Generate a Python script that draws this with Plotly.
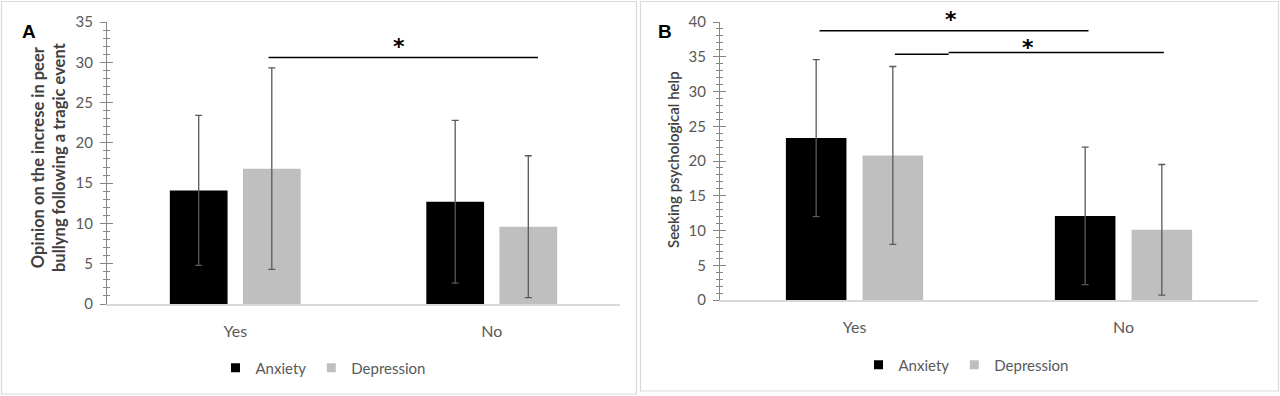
import plotly.graph_objects as go

# ---------------- data ----------------
categories = ["Yes", "No"]
series_names = ["Anxiety", "Depression"]

a_anxiety = [14.1, 12.7]
a_anxiety_sd = [9.3, 10.1]
a_depression = [16.8, 9.6]
a_depression_sd = [12.5, 8.8]

b_anxiety = [23.3, 12.1]
b_anxiety_sd = [11.3, 9.9]
b_depression = [20.8, 10.1]
b_depression_sd = [12.8, 9.4]

a_ytitle = "Opinion on the increse in peer<br>bullyng following a tragic event"
b_ytitle = "Seeking psychological help"

# significance brackets: (x_start, x_end, y) in axis units
a_sig_lines = [(0.13, 1.18, 30.6)]
a_sig_stars_x = [0.64]
a_sig_stars_y = [31.9]
b_sig_lines = [(-0.13, 0.87, 38.75), (0.15, 0.35, 35.35), (0.35, 1.15, 35.6)]
b_sig_stars_x = [0.36, 0.645]
b_sig_stars_y = [40.4, 36.3]

A_MAX, B_MAX = 35, 40

# ---------------- style ----------------
W, H = 1280, 396
FONT = "Lato"
TXT = "#595959"
AXC = "#868686"
COLORS = ["#000000", "#bfbfbf"]

fig = go.Figure()

def add_panel(xa, ya, vals, errs, legend_name):
    for name, v, e, c in zip(series_names, vals, errs, COLORS):
        fig.add_trace(go.Bar(
            x=[0, 1], y=v, name=name, marker=dict(color=c, line=dict(width=0)),
            error_y=dict(type="data", array=e, color="#595959", thickness=1.3, width=3.5),
            xaxis=xa, yaxis=ya, showlegend=False))
        fig.add_trace(go.Scatter(
            x=[None], y=[None], mode="markers", name=name,
            marker=dict(symbol="square", size=9, color=c),
            xaxis=xa, yaxis=ya, legend=legend_name, showlegend=True))

add_panel("x", "y", [a_anxiety, a_depression], [a_anxiety_sd, a_depression_sd], "legend")
add_panel("x2", "y2", [b_anxiety, b_depression], [b_anxiety_sd, b_depression_sd], "legend2")

annotations = []

def add_sig(xa, ya, lines, sx, sy, rmax):
    for (x0, x1, yv) in lines:
        fig.add_trace(go.Scatter(x=[x0, x1], y=[yv, yv], mode="lines",
                                 line=dict(color="#000000", width=1.5), cliponaxis=False,
                                 xaxis=xa, yaxis=ya, showlegend=False, hoverinfo="skip"))
    for xs, ys in zip(sx, sy):
        annotations.append(dict(x=xs, y=ys / rmax, xref=xa, yref=ya + " domain",
                                text="<b>*</b>", showarrow=False,
                                font=dict(family="DejaVu Sans", size=22, color="#000000"),
                                xanchor="center", yanchor="middle"))

add_sig("x", "y", a_sig_lines, a_sig_stars_x, a_sig_stars_y, A_MAX)
add_sig("x2", "y2", b_sig_lines, b_sig_stars_x, b_sig_stars_y, B_MAX)

tickfont = dict(family=FONT, size=15, color=TXT)

def xaxis_cfg(domain, anchor):
    return dict(domain=domain, anchor=anchor, range=[-0.5, 1.5],
                tickmode="array", tickvals=[0, 1], ticktext=categories,
                showline=True, linecolor="#d9d9d9", linewidth=1.5,
                ticks="", showgrid=False, zeroline=False,
                tickfont=dict(family=FONT, size=16, color=TXT),
                ticklabelstandoff=12, fixedrange=True)

def yaxis_cfg(domain, anchor, rmax):
    return dict(domain=domain, anchor=anchor, range=[0, rmax], dtick=5, tick0=0,
                ticks="outside", ticklen=6, tickcolor=AXC, tickwidth=1,
                showline=True, linecolor=AXC, linewidth=1,
                minor=dict(ticks="outside", ticklen=3, dtick=1, tickcolor=AXC, tickwidth=1),
                showgrid=False, zeroline=False, tickfont=tickfont,
                ticklabelstandoff=4, fixedrange=True)

def yaxis_overlay(over, anchor, rmax):
    return dict(overlaying=over, anchor=anchor, range=[0, rmax], dtick=5, tick0=0,
                ticks="inside", ticklen=6, tickcolor=AXC, tickwidth=1,
                minor=dict(ticks="inside", ticklen=3, dtick=1, tickcolor=AXC, tickwidth=1),
                showticklabels=False, showline=False, showgrid=False, zeroline=False,
                fixedrange=True)

# dummy traces to activate overlay axes
fig.add_trace(go.Scatter(x=[None], y=[None], xaxis="x", yaxis="y3", showlegend=False))
fig.add_trace(go.Scatter(x=[None], y=[None], xaxis="x2", yaxis="y4", showlegend=False))

annotations += [
    dict(x=49 / W, y=1 - 157 / H, xref="paper", yref="paper", text=a_ytitle, textangle=-90,
         showarrow=False, font=dict(family=FONT, size=16.5, color="#404040", weight=700),
         xanchor="center", yanchor="middle"),
    dict(x=673 / W, y=1 - 160 / H, xref="paper", yref="paper", text=b_ytitle, textangle=-90,
         showarrow=False, font=dict(family=FONT, size=15, color="#404040", weight=600),
         xanchor="center", yanchor="middle"),
    dict(x=29 / W, y=1 - 32 / H, xref="paper", yref="paper", text="<b>A</b>",
         showarrow=False, font=dict(family="Liberation Sans", size=19, color="#000000"),
         xanchor="center", yanchor="middle"),
    dict(x=665 / W, y=1 - 31 / H, xref="paper", yref="paper", text="<b>B</b>",
         showarrow=False, font=dict(family="Liberation Sans", size=19, color="#000000"),
         xanchor="center", yanchor="middle"),
]

shapes = [
    dict(type="rect", xref="paper", yref="paper", x0=1.5 / W, x1=636.5 / W,
         y0=1 - 394 / H, y1=1 - 1.5 / H, line=dict(color="#d9d9d9", width=1.2)),
    dict(type="rect", xref="paper", yref="paper", x0=640.5 / W, x1=1278.5 / W,
         y0=1 - 391 / H, y1=1 - 1.5 / H, line=dict(color="#d9d9d9", width=1.2)),
]

legend_font = dict(family=FONT, size=15, color=TXT)

fig.update_layout(
    width=W, height=H, margin=dict(l=0, r=0, t=0, b=0, pad=0, autoexpand=False),
    autosize=False,
    paper_bgcolor="white", plot_bgcolor="rgba(0,0,0,0)",
    barmode="group", bargap=0.43, bargroupgap=0.21,
    xaxis=xaxis_cfg([107 / W, 620 / W], "y"),
    yaxis=yaxis_cfg([92 / H, 374 / H], "x", A_MAX),
    yaxis3=yaxis_overlay("y", "x", A_MAX),
    xaxis2=xaxis_cfg([720 / W, 1258 / W], "y2"),
    yaxis2=yaxis_cfg([96 / H, 374 / H], "x2", B_MAX),
    yaxis4=yaxis_overlay("y2", "x2", B_MAX),
    legend=dict(orientation="h", x=323 / W, y=1 - 368 / H, xanchor="center", yanchor="middle",
                font=legend_font, bgcolor="rgba(0,0,0,0)", itemclick=False, itemwidth=30,
                tracegroupgap=0),
    legend2=dict(orientation="h", x=966 / W, y=1 - 365 / H, xanchor="center", yanchor="middle",
                 font=legend_font, bgcolor="rgba(0,0,0,0)", itemclick=False, itemwidth=30,
                 tracegroupgap=0),
    annotations=annotations, shapes=shapes, showlegend=True,
)

fig.write_html(
    "out.html",
    config={"displayModeBar": False},
    post_script="document.body.style.margin='0';document.body.style.padding='0';"
                "document.documentElement.style.margin='0';document.body.style.overflow='hidden';",
)
